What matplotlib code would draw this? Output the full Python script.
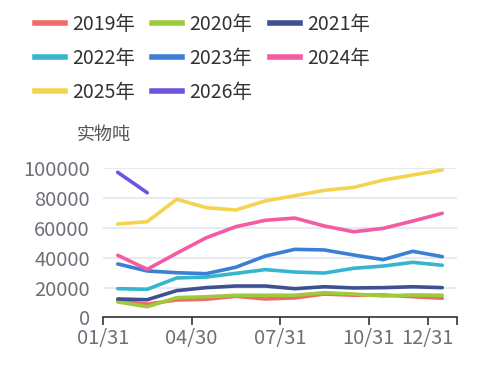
import matplotlib
matplotlib.use("Agg")
import matplotlib.pyplot as plt
from matplotlib.lines import Line2D

plt.rcParams['font.family'] = ['Noto Sans CJK SC', 'DejaVu Sans']

# data (monthly, 实物吨)
months = list(range(12))
y2019 = [10900, 8900, 11600, 12100, 14100, 12300, 13000, 15600, 14800, 15000, 13800, 12800]
y2020 = [10300, 7100, 13200, 13800, 14800, 14800, 14800, 16500, 15600, 14300, 15000, 14800]
y2021 = [12300, 11800, 17900, 19900, 21000, 21000, 19200, 20500, 19700, 19900, 20500, 19900]
y2022 = [19200, 18800, 26400, 27000, 29500, 32000, 30400, 29700, 32900, 34400, 36900, 34900]
y2023 = [35800, 31100, 29900, 29300, 33600, 41100, 45600, 45200, 41800, 38700, 44300, 40700]
y2024 = [41600, 32200, 43000, 53400, 60800, 65100, 66600, 61300, 57400, 59700, 64600, 69800]
y2025 = [62600, 64200, 79200, 73600, 72000, 78100, 81600, 85200, 87200, 92100, 95500, 98900]
y2026 = [97300, 83600]

labels = ["2019年", "2020年", "2021年", "2022年", "2023年", "2024年", "2025年", "2026年"]
colors = ["#f26b6b", "#9ccc3c", "#3e4f94", "#36b5cf", "#3b7fd4", "#f55aa5", "#f4d44e", "#6f52e0"]
series = [y2019, y2020, y2021, y2022, y2023, y2024, y2025, y2026]

tick_pos = [-0.5, 2.5, 5.5, 8.5, 10.5, 11.5]
tick_labels = ["01/31", "04/30", "07/31", "10/31", "12/31", ""]

fig = plt.figure(figsize=(4.91, 3.75), dpi=100)
ax = fig.add_axes([103 / 491, 1 - 317.3 / 375, (457 - 103) / 491, 149 / 375])

for vals, c, lab in zip(series, colors, labels):
    ax.plot(months[:len(vals)], vals, color=c, lw=2.6, label=lab,
            solid_capstyle="round", solid_joinstyle="round")

ax.set_xlim(-0.5, 11.5)
ax.set_ylim(0, 100000)
ax.set_yticks(range(0, 100001, 20000))
ax.set_xticks(tick_pos)
ax.set_xticklabels(tick_labels)
ax.grid(axis="y", color="#e0e6f1", lw=1.2)
ax.set_axisbelow(True)
for s in ["top", "right", "left"]:
    ax.spines[s].set_visible(False)
ax.spines["bottom"].set_color("#333333")
ax.spines["bottom"].set_linewidth(1.2)
ax.tick_params(axis="y", length=0, pad=9.5, labelsize=14.5, labelcolor="#6e7079")
ax.tick_params(axis="x", length=6, width=1.2, color="#333333", pad=2,
               labelsize=14.5, labelcolor="#6e7079")

fig.text(104 / 491, 1 - 135 / 375, "实物吨", ha="center", va="center",
         fontsize=13, color="#555555")

# legend is filled column by column, so reorder to read row by row
order = [0, 3, 6, 1, 4, 7, 2, 5]
handles = [Line2D([0], [0], color=colors[i], lw=4) for i in order]
fig.legend(handles, [labels[i] for i in order], loc="upper left",
           bbox_to_anchor=(17 / 491, 1 + 4 / 375),
           ncol=3, frameon=False, fontsize=14, handlelength=1.55, handletextpad=0.38,
           columnspacing=0.88, labelspacing=0.68, labelcolor="#333333")

fig.savefig("out.png", dpi=100)
